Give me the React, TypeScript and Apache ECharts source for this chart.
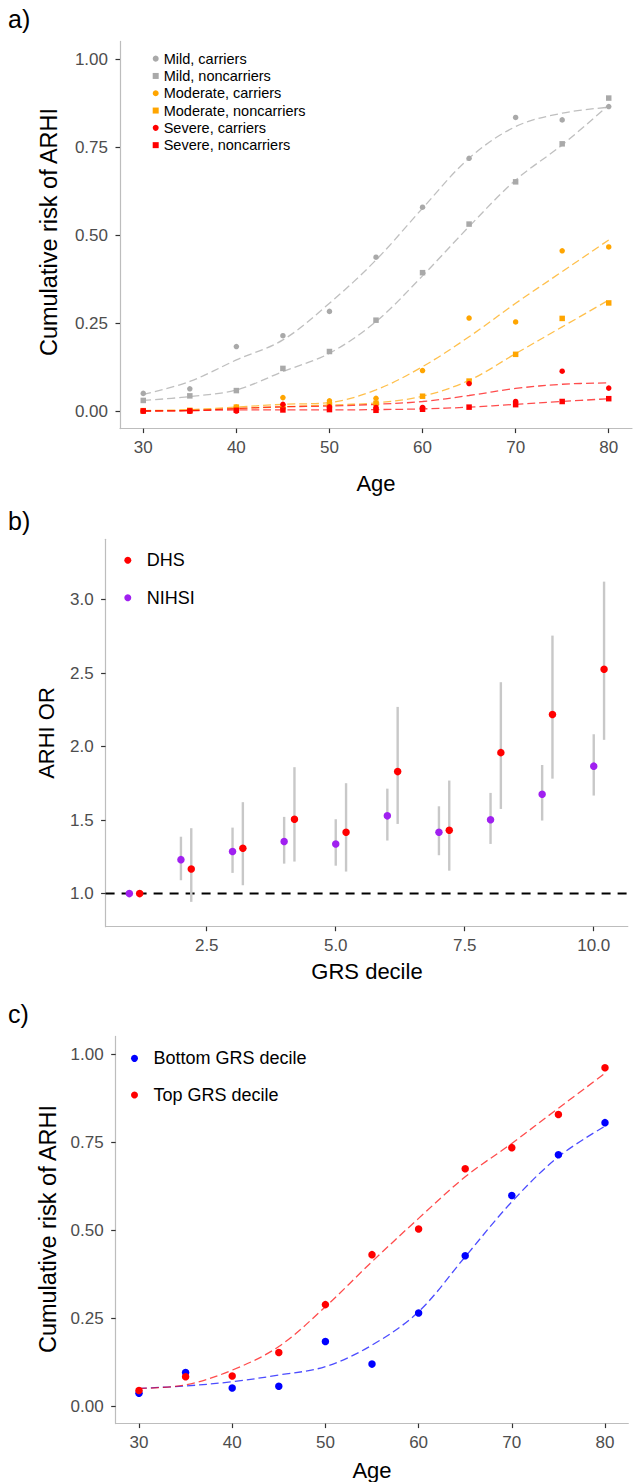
import React, { useEffect, useRef } from "react";
import * as echarts from "echarts";

// ---------- Panel a ----------
const ages = [30, 35, 40, 45, 50, 55, 60, 65, 70, 75, 80];
const ageTicks = [30, 40, 50, 60, 70, 80];
const riskTicks = [0, 0.25, 0.5, 0.75, 1.0];

const mildCarriers = [0.05, 0.063, 0.183, 0.214, 0.283, 0.437, 0.579, 0.718, 0.834, 0.827, 0.865];
const mildNoncarriers = [0.03, 0.043, 0.058, 0.121, 0.169, 0.258, 0.393, 0.531, 0.651, 0.759, 0.889];
const modCarriers = [0.0, 0.0, 0.011, 0.038, 0.029, 0.036, 0.115, 0.264, 0.253, 0.455, 0.466];
const modNoncarriers = [0.001, 0.002, 0.011, 0.012, 0.018, 0.022, 0.042, 0.085, 0.161, 0.263, 0.307];
const sevCarriers = [0.0, 0.0, 0.0, 0.019, 0.012, 0.01, 0.01, 0.078, 0.027, 0.113, 0.065];
const sevNoncarriers = [0.0, 0.0, 0.002, 0.003, 0.004, 0.002, 0.005, 0.011, 0.018, 0.027, 0.035];

const mildCarriersFit = [0.047, 0.084, 0.145, 0.202, 0.306, 0.429, 0.576, 0.718, 0.808, 0.846, 0.863];
const mildNoncarriersFit = [0.03, 0.041, 0.06, 0.112, 0.164, 0.254, 0.384, 0.524, 0.656, 0.756, 0.869];
const modCarriersFit = [0.001, 0.004, 0.011, 0.019, 0.024, 0.06, 0.126, 0.211, 0.306, 0.396, 0.486];
const modNoncarriersFit = [0.0, 0.002, 0.007, 0.012, 0.017, 0.023, 0.042, 0.087, 0.163, 0.239, 0.315];
const sevCarriersFit = [0.0, 0.001, 0.007, 0.012, 0.014, 0.019, 0.027, 0.044, 0.064, 0.076, 0.08];
const sevNoncarriersFit = [0.0, 0.001, 0.003, 0.003, 0.003, 0.004, 0.006, 0.011, 0.019, 0.027, 0.035];

// ---------- Panel b ----------
const nihsiDeciles = [1, 2, 3, 4, 5, 6, 7, 8, 9, 10];
const dhsDeciles = [1.2, 2.2, 3.2, 4.2, 5.2, 6.2, 7.2, 8.2, 9.2, 10.2];
const decileTicks = [2.5, 5.0, 7.5, 10.0];
const orTicks = [1.0, 1.5, 2.0, 2.5, 3.0];
const referenceOR = 1;

const nihsiOR = [1.0, 1.231, 1.286, 1.354, 1.338, 1.529, 1.418, 1.503, 1.676, 1.867];
const nihsiLo = [1.0, 1.091, 1.141, 1.204, 1.19, 1.361, 1.261, 1.338, 1.497, 1.667];
const nihsiHi = [1.0, 1.387, 1.449, 1.522, 1.506, 1.714, 1.594, 1.685, 1.875, 2.084];
const dhsOR = [1.0, 1.168, 1.309, 1.506, 1.418, 1.83, 1.431, 1.959, 2.218, 2.526];
const dhsLo = [1.0, 0.944, 1.057, 1.218, 1.15, 1.474, 1.156, 1.576, 1.782, 2.046];
const dhsHi = [1.0, 1.445, 1.622, 1.86, 1.751, 2.27, 1.769, 2.438, 2.755, 3.122];

// ---------- Panel c ----------
const bottomGRS = [0.036, 0.095, 0.051, 0.056, 0.183, 0.119, 0.264, 0.427, 0.598, 0.714, 0.805];
const topGRS = [0.044, 0.083, 0.085, 0.152, 0.288, 0.43, 0.503, 0.674, 0.734, 0.828, 0.961];
const bottomFit = [0.05, 0.057, 0.069, 0.088, 0.112, 0.173, 0.268, 0.424, 0.58, 0.708, 0.795];
const topFit = [0.05, 0.06, 0.102, 0.169, 0.282, 0.41, 0.533, 0.651, 0.746, 0.846, 0.945];

const FONT = "'Liberation Sans', Arial, Helvetica, sans-serif";
const GREY = "#A9A9A9";
const ORANGE = "#FFA500";
const RED = "#FF0000";
const PURPLE = "#A020F0";
const BLUE = "#0000FF";

const pairs = (xs: number[], ys: number[]) => xs.map((x, i) => [x, ys[i]]);

function axisCommon(ticks: number[], digits: number, vertical: boolean) {
  return {
    axisLine: { show: true, onZero: false, lineStyle: { color: "#bdbdbd", width: 1.2 } },
    axisTick: {
      show: true,
      length: 4.5,
      lineStyle: { color: "#333333", width: 1.2 },
      customValues: ticks,
    },
    axisLabel: {
      color: "#4d4d4d",
      fontSize: 17,
      fontFamily: FONT,
      margin: vertical ? 12 : 10,
      customValues: ticks,
      formatter: (v: number) => v.toFixed(digits),
    },
    splitLine: { show: false },
  };
}

function scatter(name: string, xi: number, yi: number, xs: number[], ys: number[], color: string, symbol: string, size: number) {
  return {
    type: "scatter",
    name,
    xAxisIndex: xi,
    yAxisIndex: yi,
    data: pairs(xs, ys),
    symbol,
    symbolSize: size,
    itemStyle: { color, opacity: 1 },
    z: 4,
    silent: true,
  };
}

function fitLine(name: string, xi: number, yi: number, xs: number[], ys: number[], color: string) {
  return {
    type: "line",
    name,
    xAxisIndex: xi,
    yAxisIndex: yi,
    data: pairs(xs, ys),
    smooth: 0.35,
    showSymbol: false,
    symbol: "none",
    lineStyle: { color, width: 1.3, type: [8, 4] },
    z: 3,
    silent: true,
  };
}

function errorBars(name: string, xs: number[], lo: number[], hi: number[]) {
  return {
    type: "custom",
    name,
    xAxisIndex: 1,
    yAxisIndex: 1,
    data: xs.map((x, i) => [x, lo[i], hi[i]]),
    encode: { x: 0, y: [1, 2] },
    z: 2,
    silent: true,
    renderItem: (params: any, api: any) => {
      const p1 = api.coord([api.value(0), api.value(1)]);
      const p2 = api.coord([api.value(0), api.value(2)]);
      return {
        type: "line",
        shape: { x1: p1[0], y1: p1[1], x2: p2[0], y2: p2[1] },
        style: { stroke: "#c8c8c8", lineWidth: 2.4 },
      };
    },
  };
}

function text(str: string, x: number, y: number, size: number, opts: any = {}) {
  return {
    type: "text",
    x,
    y,
    rotation: opts.rotation || 0,
    style: {
      text: str,
      fontSize: size,
      fontFamily: FONT,
      fill: "#000",
      textAlign: opts.align || "center",
      textVerticalAlign: "middle",
    },
    silent: true,
  };
}

export default function App() {
  const ref = useRef<HTMLDivElement>(null);

  useEffect(() => {
    if (!ref.current) return;
    const chart = echarts.init(ref.current, undefined, { renderer: "svg" });

    const option: any = {
      animation: false,
      backgroundColor: "#ffffff",
      textStyle: { fontFamily: FONT },
      grid: [
        { left: 120, top: 41.4, width: 512, height: 387.2, containLabel: false, outerBoundsMode: "none" },
        { left: 105.6, top: 539.3, width: 522.2, height: 387.4, containLabel: false, outerBoundsMode: "none" },
        { left: 115.7, top: 1036.4, width: 512.6, height: 387.2, containLabel: false, outerBoundsMode: "none" },
      ],
      xAxis: [
        { type: "value", gridIndex: 0, min: 27.5, max: 82.5, ...axisCommon(ageTicks, 0, false) },
        { type: "value", gridIndex: 1, min: 0.54, max: 10.66, ...axisCommon(decileTicks, 1, false) },
        { type: "value", gridIndex: 2, min: 27.5, max: 82.5, ...axisCommon(ageTicks, 0, false) },
      ],
      yAxis: [
        { type: "value", gridIndex: 0, min: -0.05, max: 1.05, ...axisCommon(riskTicks, 2, true) },
        { type: "value", gridIndex: 1, min: 0.775, max: 3.41, ...axisCommon(orTicks, 1, true) },
        { type: "value", gridIndex: 2, min: -0.05, max: 1.05, ...axisCommon(riskTicks, 2, true) },
      ],
      legend: [
        {
          orient: "vertical",
          left: 147.7,
          top: 45,
          itemWidth: 6,
          itemHeight: 6,
          itemGap: 0,
          selectedMode: false,
          textStyle: { fontSize: 14.5, fontFamily: FONT, color: "#000", lineHeight: 17.3 },
          data: [
            { name: "Mild, carriers", icon: "circle" },
            { name: "Mild, noncarriers", icon: "rect" },
            { name: "Moderate, carriers", icon: "circle" },
            { name: "Moderate, noncarriers", icon: "rect" },
            { name: "Severe, carriers", icon: "circle" },
            { name: "Severe, noncarriers", icon: "rect" },
          ],
        },
        {
          orient: "vertical",
          left: 119.3,
          top: 536.6,
          itemWidth: 28,
          itemHeight: 7,
          itemGap: 0,
          selectedMode: false,
          textStyle: { fontSize: 18, fontFamily: FONT, color: "#000", lineHeight: 37.4 },
          data: [
            { name: "DHS", icon: "circle" },
            { name: "NIHSI", icon: "circle" },
          ],
        },
        {
          orient: "vertical",
          left: 126,
          top: 1035,
          itemWidth: 28,
          itemHeight: 7,
          itemGap: 0,
          selectedMode: false,
          textStyle: { fontSize: 18, fontFamily: FONT, color: "#000", lineHeight: 36.7 },
          data: [
            { name: "Bottom GRS decile", icon: "circle" },
            { name: "Top GRS decile", icon: "circle" },
          ],
        },
      ],
      series: [
        // panel a
        fitLine("Mild, carriers fit", 0, 0, ages, mildCarriersFit, "rgba(169,169,169,0.75)"),
        fitLine("Mild, noncarriers fit", 0, 0, ages, mildNoncarriersFit, "rgba(169,169,169,0.75)"),
        fitLine("Moderate, carriers fit", 0, 0, ages, modCarriersFit, "rgba(255,165,0,0.7)"),
        fitLine("Moderate, noncarriers fit", 0, 0, ages, modNoncarriersFit, "rgba(255,165,0,0.7)"),
        fitLine("Severe, carriers fit", 0, 0, ages, sevCarriersFit, "rgba(255,0,0,0.7)"),
        fitLine("Severe, noncarriers fit", 0, 0, ages, sevNoncarriersFit, "rgba(255,0,0,0.7)"),
        scatter("Mild, carriers", 0, 0, ages, mildCarriers, GREY, "circle", 5.5),
        scatter("Mild, noncarriers", 0, 0, ages, mildNoncarriers, GREY, "rect", 5.5),
        scatter("Moderate, carriers", 0, 0, ages, modCarriers, ORANGE, "circle", 5.5),
        scatter("Moderate, noncarriers", 0, 0, ages, modNoncarriers, ORANGE, "rect", 5.5),
        scatter("Severe, carriers", 0, 0, ages, sevCarriers, RED, "circle", 5.5),
        scatter("Severe, noncarriers", 0, 0, ages, sevNoncarriers, RED, "rect", 5.5),
        // panel b
        {
          type: "line",
          name: "reference",
          xAxisIndex: 1,
          yAxisIndex: 1,
          data: [[0.54, referenceOR], [10.66, referenceOR]],
          showSymbol: false,
          symbol: "none",
          lineStyle: { color: "#000", width: 2, type: [9, 7] },
          z: 1,
          silent: true,
        },
        errorBars("NIHSI CI", nihsiDeciles, nihsiLo, nihsiHi),
        errorBars("DHS CI", dhsDeciles, dhsLo, dhsHi),
        scatter("NIHSI", 1, 1, nihsiDeciles, nihsiOR, PURPLE, "circle", 7.5),
        scatter("DHS", 1, 1, dhsDeciles, dhsOR, RED, "circle", 7.5),
        // panel c
        fitLine("Bottom fit", 2, 2, ages, bottomFit, "rgba(0,0,255,0.7)"),
        fitLine("Top fit", 2, 2, ages, topFit, "rgba(255,0,0,0.7)"),
        scatter("Bottom GRS decile", 2, 2, ages, bottomGRS, BLUE, "circle", 7.5),
        scatter("Top GRS decile", 2, 2, ages, topGRS, RED, "circle", 7.5),
      ],
      graphic: [
        text("a)", 8, 19, 25, { align: "left" }),
        text("b)", 8, 521, 25, { align: "left" }),
        text("c)", 8, 1014, 25, { align: "left" }),
        text("Cumulative risk of ARHI", 49, 232, 23.5, { rotation: Math.PI / 2 }),
        text("ARHI OR", 46, 733, 22, { rotation: Math.PI / 2 }),
        text("Cumulative risk of ARHI", 48, 1229, 23.5, { rotation: Math.PI / 2 }),
        text("Age", 376, 483, 22),
        text("GRS decile", 367, 971, 22),
        text("Age", 372, 1470, 22),
      ],
    };

    chart.setOption(option);
    return () => chart.dispose();
  }, []);

  return (
    <div
      ref={ref}
      style={{ position: "absolute", left: 0, top: 0, width: 642, height: 1482, background: "#fff" }}
    />
  );
}
